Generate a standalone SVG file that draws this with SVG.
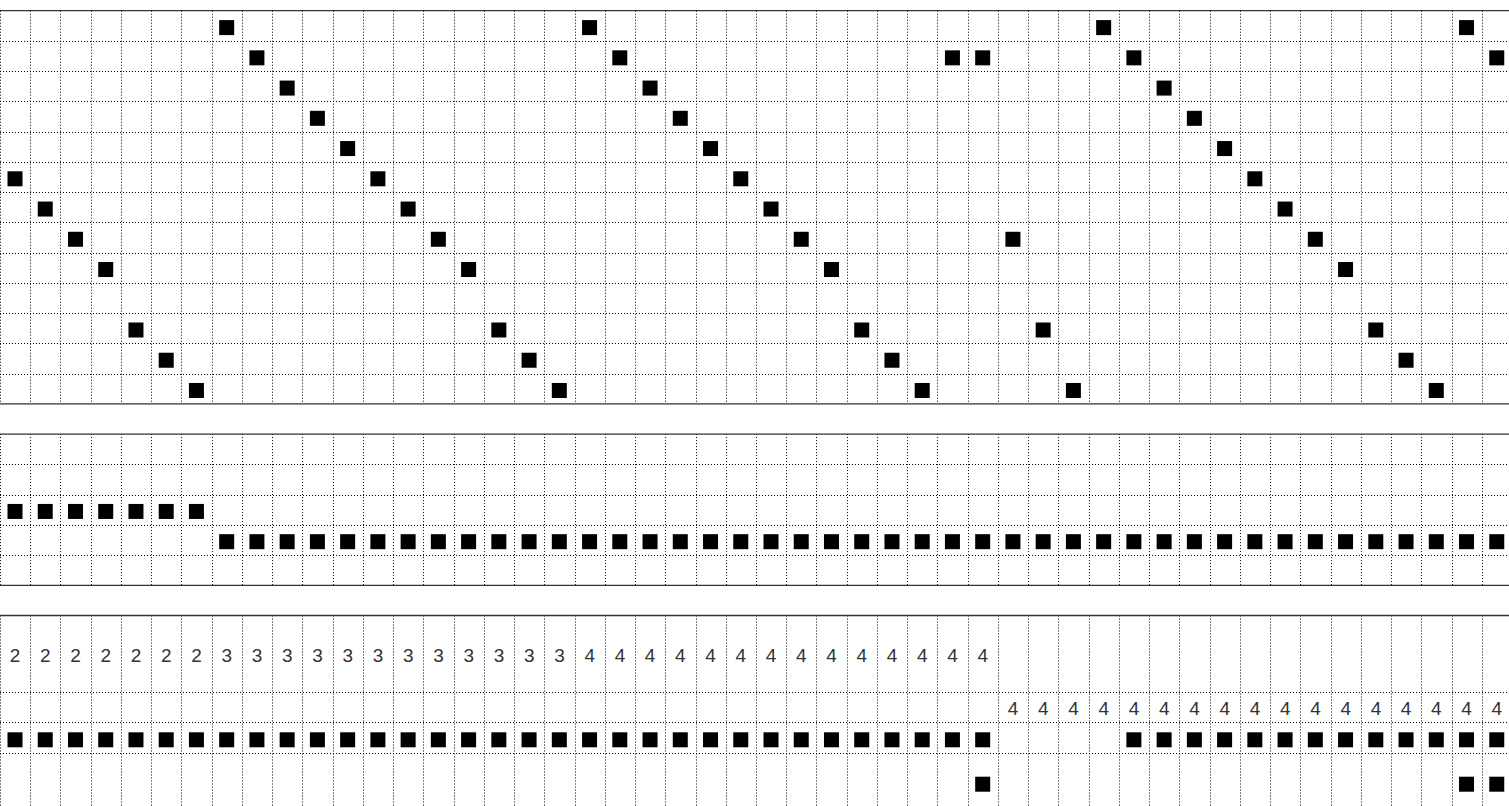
<svg xmlns="http://www.w3.org/2000/svg" xmlns:xlink="http://www.w3.org/1999/xlink" width="1509" height="806" viewBox="0 0 1509 806">
<style>
.dot{fill:none;stroke:#000;stroke-width:1;stroke-dasharray:1 2}
.solid{fill:none;stroke:#333;stroke-width:1.3}
.num{font-family:"Liberation Sans",Arial,sans-serif;font-size:19px;fill:#333;text-anchor:middle}
</style>
<defs>
<rect id="sq" width="15" height="15" fill="#000"/>
</defs>
<rect width="1509" height="806" fill="#fff"/>
<g id="grid">
<path class="dot" d="M0.5 10.7V403.8M30.5 10.7V403.8M60.5 10.7V403.8M91.5 10.7V403.8M121.5 10.7V403.8M151.5 10.7V403.8M181.5 10.7V403.8M212.5 10.7V403.8M242.5 10.7V403.8M272.5 10.7V403.8M302.5 10.7V403.8M333.5 10.7V403.8M363.5 10.7V403.8M393.5 10.7V403.8M423.5 10.7V403.8M454.5 10.7V403.8M484.5 10.7V403.8M514.5 10.7V403.8M544.5 10.7V403.8M575.5 10.7V403.8M605.5 10.7V403.8M635.5 10.7V403.8M665.5 10.7V403.8M696.5 10.7V403.8M726.5 10.7V403.8M756.5 10.7V403.8M786.5 10.7V403.8M816.5 10.7V403.8M847.5 10.7V403.8M877.5 10.7V403.8M907.5 10.7V403.8M937.5 10.7V403.8M968.5 10.7V403.8M998.5 10.7V403.8M1028.5 10.7V403.8M1058.5 10.7V403.8M1089.5 10.7V403.8M1119.5 10.7V403.8M1149.5 10.7V403.8M1179.5 10.7V403.8M1210.5 10.7V403.8M1240.5 10.7V403.8M1270.5 10.7V403.8M1300.5 10.7V403.8M1331.5 10.7V403.8M1361.5 10.7V403.8M1391.5 10.7V403.8M1421.5 10.7V403.8M1452.5 10.7V403.8M1482.5 10.7V403.8"/>
<path class="dot" d="M0.5 434.1V585.3M30.5 434.1V585.3M60.5 434.1V585.3M91.5 434.1V585.3M121.5 434.1V585.3M151.5 434.1V585.3M181.5 434.1V585.3M212.5 434.1V585.3M242.5 434.1V585.3M272.5 434.1V585.3M302.5 434.1V585.3M333.5 434.1V585.3M363.5 434.1V585.3M393.5 434.1V585.3M423.5 434.1V585.3M454.5 434.1V585.3M484.5 434.1V585.3M514.5 434.1V585.3M544.5 434.1V585.3M575.5 434.1V585.3M605.5 434.1V585.3M635.5 434.1V585.3M665.5 434.1V585.3M696.5 434.1V585.3M726.5 434.1V585.3M756.5 434.1V585.3M786.5 434.1V585.3M816.5 434.1V585.3M847.5 434.1V585.3M877.5 434.1V585.3M907.5 434.1V585.3M937.5 434.1V585.3M968.5 434.1V585.3M998.5 434.1V585.3M1028.5 434.1V585.3M1058.5 434.1V585.3M1089.5 434.1V585.3M1119.5 434.1V585.3M1149.5 434.1V585.3M1179.5 434.1V585.3M1210.5 434.1V585.3M1240.5 434.1V585.3M1270.5 434.1V585.3M1300.5 434.1V585.3M1331.5 434.1V585.3M1361.5 434.1V585.3M1391.5 434.1V585.3M1421.5 434.1V585.3M1452.5 434.1V585.3M1482.5 434.1V585.3"/>
<path class="dot" d="M0.5 615.5V806M30.5 615.5V806M60.5 615.5V806M91.5 615.5V806M121.5 615.5V806M151.5 615.5V806M181.5 615.5V806M212.5 615.5V806M242.5 615.5V806M272.5 615.5V806M302.5 615.5V806M333.5 615.5V806M363.5 615.5V806M393.5 615.5V806M423.5 615.5V806M454.5 615.5V806M484.5 615.5V806M514.5 615.5V806M544.5 615.5V806M575.5 615.5V806M605.5 615.5V806M635.5 615.5V806M665.5 615.5V806M696.5 615.5V806M726.5 615.5V806M756.5 615.5V806M786.5 615.5V806M816.5 615.5V806M847.5 615.5V806M877.5 615.5V806M907.5 615.5V806M937.5 615.5V806M968.5 615.5V806M998.5 615.5V806M1028.5 615.5V806M1058.5 615.5V806M1089.5 615.5V806M1119.5 615.5V806M1149.5 615.5V806M1179.5 615.5V806M1210.5 615.5V806M1240.5 615.5V806M1270.5 615.5V806M1300.5 615.5V806M1331.5 615.5V806M1361.5 615.5V806M1391.5 615.5V806M1421.5 615.5V806M1452.5 615.5V806M1482.5 615.5V806"/>
<path class="dot" d="M0 41.5H1509M0 71.5H1509M0 101.5H1509M0 132.5H1509M0 162.5H1509M0 192.5H1509M0 222.5H1509M0 253.5H1509M0 283.5H1509M0 313.5H1509M0 343.5H1509M0 374.5H1509M0 464.5H1509M0 495.5H1509M0 525.5H1509M0 555.5H1509M0 692.5H1509M0 722.5H1509M0 753.5H1509"/>
<path class="solid" d="M0 10.7H1509M0 403.8H1509M0 434.1H1509M0 585.3H1509M0 615.5H1509"/>
</g>
<g id="top-notes">
<use href="#sq" x="219.18" y="20.1"/><use href="#sq" x="582.06" y="20.1"/><use href="#sq" x="1096.14" y="20.1"/><use href="#sq" x="1459.02" y="20.1"/>
<use href="#sq" x="249.42" y="50.34"/><use href="#sq" x="612.3" y="50.34"/><use href="#sq" x="944.94" y="50.34"/><use href="#sq" x="975.18" y="50.34"/><use href="#sq" x="1126.38" y="50.34"/><use href="#sq" x="1489.26" y="50.34"/>
<use href="#sq" x="279.66" y="80.58"/><use href="#sq" x="642.54" y="80.58"/><use href="#sq" x="1156.62" y="80.58"/>
<use href="#sq" x="309.9" y="110.82"/><use href="#sq" x="672.78" y="110.82"/><use href="#sq" x="1186.86" y="110.82"/>
<use href="#sq" x="340.14" y="141.06"/><use href="#sq" x="703.02" y="141.06"/><use href="#sq" x="1217.1" y="141.06"/>
<use href="#sq" x="7.5" y="171.3"/><use href="#sq" x="370.38" y="171.3"/><use href="#sq" x="733.26" y="171.3"/><use href="#sq" x="1247.34" y="171.3"/>
<use href="#sq" x="37.74" y="201.54"/><use href="#sq" x="400.62" y="201.54"/><use href="#sq" x="763.5" y="201.54"/><use href="#sq" x="1277.58" y="201.54"/>
<use href="#sq" x="67.98" y="231.78"/><use href="#sq" x="430.86" y="231.78"/><use href="#sq" x="793.74" y="231.78"/><use href="#sq" x="1005.42" y="231.78"/><use href="#sq" x="1307.82" y="231.78"/>
<use href="#sq" x="98.22" y="262.02"/><use href="#sq" x="461.1" y="262.02"/><use href="#sq" x="823.98" y="262.02"/><use href="#sq" x="1338.06" y="262.02"/>
<use href="#sq" x="128.46" y="322.5"/><use href="#sq" x="491.34" y="322.5"/><use href="#sq" x="854.22" y="322.5"/><use href="#sq" x="1035.66" y="322.5"/><use href="#sq" x="1368.3" y="322.5"/>
<use href="#sq" x="158.7" y="352.74"/><use href="#sq" x="521.58" y="352.74"/><use href="#sq" x="884.46" y="352.74"/><use href="#sq" x="1398.54" y="352.74"/>
<use href="#sq" x="188.94" y="382.98"/><use href="#sq" x="551.82" y="382.98"/><use href="#sq" x="914.7" y="382.98"/><use href="#sq" x="1065.9" y="382.98"/><use href="#sq" x="1428.78" y="382.98"/>
</g>
<g id="middle-notes">
<use href="#sq" x="7.5" y="503.94"/><use href="#sq" x="37.74" y="503.94"/><use href="#sq" x="67.98" y="503.94"/><use href="#sq" x="98.22" y="503.94"/><use href="#sq" x="128.46" y="503.94"/><use href="#sq" x="158.7" y="503.94"/><use href="#sq" x="188.94" y="503.94"/>
<use href="#sq" x="219.18" y="534.18"/><use href="#sq" x="249.42" y="534.18"/><use href="#sq" x="279.66" y="534.18"/><use href="#sq" x="309.9" y="534.18"/><use href="#sq" x="340.14" y="534.18"/><use href="#sq" x="370.38" y="534.18"/><use href="#sq" x="400.62" y="534.18"/><use href="#sq" x="430.86" y="534.18"/><use href="#sq" x="461.1" y="534.18"/><use href="#sq" x="491.34" y="534.18"/><use href="#sq" x="521.58" y="534.18"/><use href="#sq" x="551.82" y="534.18"/><use href="#sq" x="582.06" y="534.18"/><use href="#sq" x="612.3" y="534.18"/><use href="#sq" x="642.54" y="534.18"/><use href="#sq" x="672.78" y="534.18"/><use href="#sq" x="703.02" y="534.18"/><use href="#sq" x="733.26" y="534.18"/><use href="#sq" x="763.5" y="534.18"/><use href="#sq" x="793.74" y="534.18"/><use href="#sq" x="823.98" y="534.18"/><use href="#sq" x="854.22" y="534.18"/><use href="#sq" x="884.46" y="534.18"/><use href="#sq" x="914.7" y="534.18"/><use href="#sq" x="944.94" y="534.18"/><use href="#sq" x="975.18" y="534.18"/><use href="#sq" x="1005.42" y="534.18"/><use href="#sq" x="1035.66" y="534.18"/><use href="#sq" x="1065.9" y="534.18"/><use href="#sq" x="1096.14" y="534.18"/><use href="#sq" x="1126.38" y="534.18"/><use href="#sq" x="1156.62" y="534.18"/><use href="#sq" x="1186.86" y="534.18"/><use href="#sq" x="1217.1" y="534.18"/><use href="#sq" x="1247.34" y="534.18"/><use href="#sq" x="1277.58" y="534.18"/><use href="#sq" x="1307.82" y="534.18"/><use href="#sq" x="1338.06" y="534.18"/><use href="#sq" x="1368.3" y="534.18"/><use href="#sq" x="1398.54" y="534.18"/><use href="#sq" x="1428.78" y="534.18"/><use href="#sq" x="1459.02" y="534.18"/><use href="#sq" x="1489.26" y="534.18"/>
</g>
<g id="bottom-numbers" class="num">
<text x="15.12" y="661.7">2</text><text x="45.36" y="661.7">2</text><text x="75.6" y="661.7">2</text><text x="105.84" y="661.7">2</text><text x="136.08" y="661.7">2</text><text x="166.32" y="661.7">2</text><text x="196.56" y="661.7">2</text>
<text x="226.8" y="661.7">3</text><text x="257.04" y="661.7">3</text><text x="287.28" y="661.7">3</text><text x="317.52" y="661.7">3</text><text x="347.76" y="661.7">3</text><text x="378" y="661.7">3</text><text x="408.24" y="661.7">3</text><text x="438.48" y="661.7">3</text><text x="468.72" y="661.7">3</text><text x="498.96" y="661.7">3</text><text x="529.2" y="661.7">3</text><text x="559.44" y="661.7">3</text>
<text x="589.68" y="661.7">4</text><text x="619.92" y="661.7">4</text><text x="650.16" y="661.7">4</text><text x="680.4" y="661.7">4</text><text x="710.64" y="661.7">4</text><text x="740.88" y="661.7">4</text><text x="771.12" y="661.7">4</text><text x="801.36" y="661.7">4</text><text x="831.6" y="661.7">4</text><text x="861.84" y="661.7">4</text><text x="892.08" y="661.7">4</text><text x="922.32" y="661.7">4</text><text x="952.56" y="661.7">4</text><text x="982.8" y="661.7">4</text>
<text x="1013.04" y="715">4</text><text x="1043.28" y="715">4</text><text x="1073.52" y="715">4</text><text x="1103.76" y="715">4</text><text x="1134" y="715">4</text><text x="1164.24" y="715">4</text><text x="1194.48" y="715">4</text><text x="1224.72" y="715">4</text><text x="1254.96" y="715">4</text><text x="1285.2" y="715">4</text><text x="1315.44" y="715">4</text><text x="1345.68" y="715">4</text><text x="1375.92" y="715">4</text><text x="1406.16" y="715">4</text><text x="1436.4" y="715">4</text><text x="1466.64" y="715">4</text><text x="1496.88" y="715">4</text>
</g>
<g id="bottom-notes">
<use href="#sq" x="7.5" y="732.3"/><use href="#sq" x="37.74" y="732.3"/><use href="#sq" x="67.98" y="732.3"/><use href="#sq" x="98.22" y="732.3"/><use href="#sq" x="128.46" y="732.3"/><use href="#sq" x="158.7" y="732.3"/><use href="#sq" x="188.94" y="732.3"/><use href="#sq" x="219.18" y="732.3"/><use href="#sq" x="249.42" y="732.3"/><use href="#sq" x="279.66" y="732.3"/><use href="#sq" x="309.9" y="732.3"/><use href="#sq" x="340.14" y="732.3"/><use href="#sq" x="370.38" y="732.3"/><use href="#sq" x="400.62" y="732.3"/><use href="#sq" x="430.86" y="732.3"/><use href="#sq" x="461.1" y="732.3"/><use href="#sq" x="491.34" y="732.3"/><use href="#sq" x="521.58" y="732.3"/><use href="#sq" x="551.82" y="732.3"/><use href="#sq" x="582.06" y="732.3"/><use href="#sq" x="612.3" y="732.3"/><use href="#sq" x="642.54" y="732.3"/><use href="#sq" x="672.78" y="732.3"/><use href="#sq" x="703.02" y="732.3"/><use href="#sq" x="733.26" y="732.3"/><use href="#sq" x="763.5" y="732.3"/><use href="#sq" x="793.74" y="732.3"/><use href="#sq" x="823.98" y="732.3"/><use href="#sq" x="854.22" y="732.3"/><use href="#sq" x="884.46" y="732.3"/><use href="#sq" x="914.7" y="732.3"/><use href="#sq" x="944.94" y="732.3"/><use href="#sq" x="975.18" y="732.3"/>
<use href="#sq" x="1126.38" y="732.3"/><use href="#sq" x="1156.62" y="732.3"/><use href="#sq" x="1186.86" y="732.3"/><use href="#sq" x="1217.1" y="732.3"/><use href="#sq" x="1247.34" y="732.3"/><use href="#sq" x="1277.58" y="732.3"/><use href="#sq" x="1307.82" y="732.3"/><use href="#sq" x="1338.06" y="732.3"/><use href="#sq" x="1368.3" y="732.3"/><use href="#sq" x="1398.54" y="732.3"/><use href="#sq" x="1428.78" y="732.3"/><use href="#sq" x="1459.02" y="732.3"/><use href="#sq" x="1489.26" y="732.3"/>
<use href="#sq" x="975.18" y="776.7"/><use href="#sq" x="1459.02" y="776.7"/><use href="#sq" x="1489.26" y="776.7"/>
</g>
</svg>
